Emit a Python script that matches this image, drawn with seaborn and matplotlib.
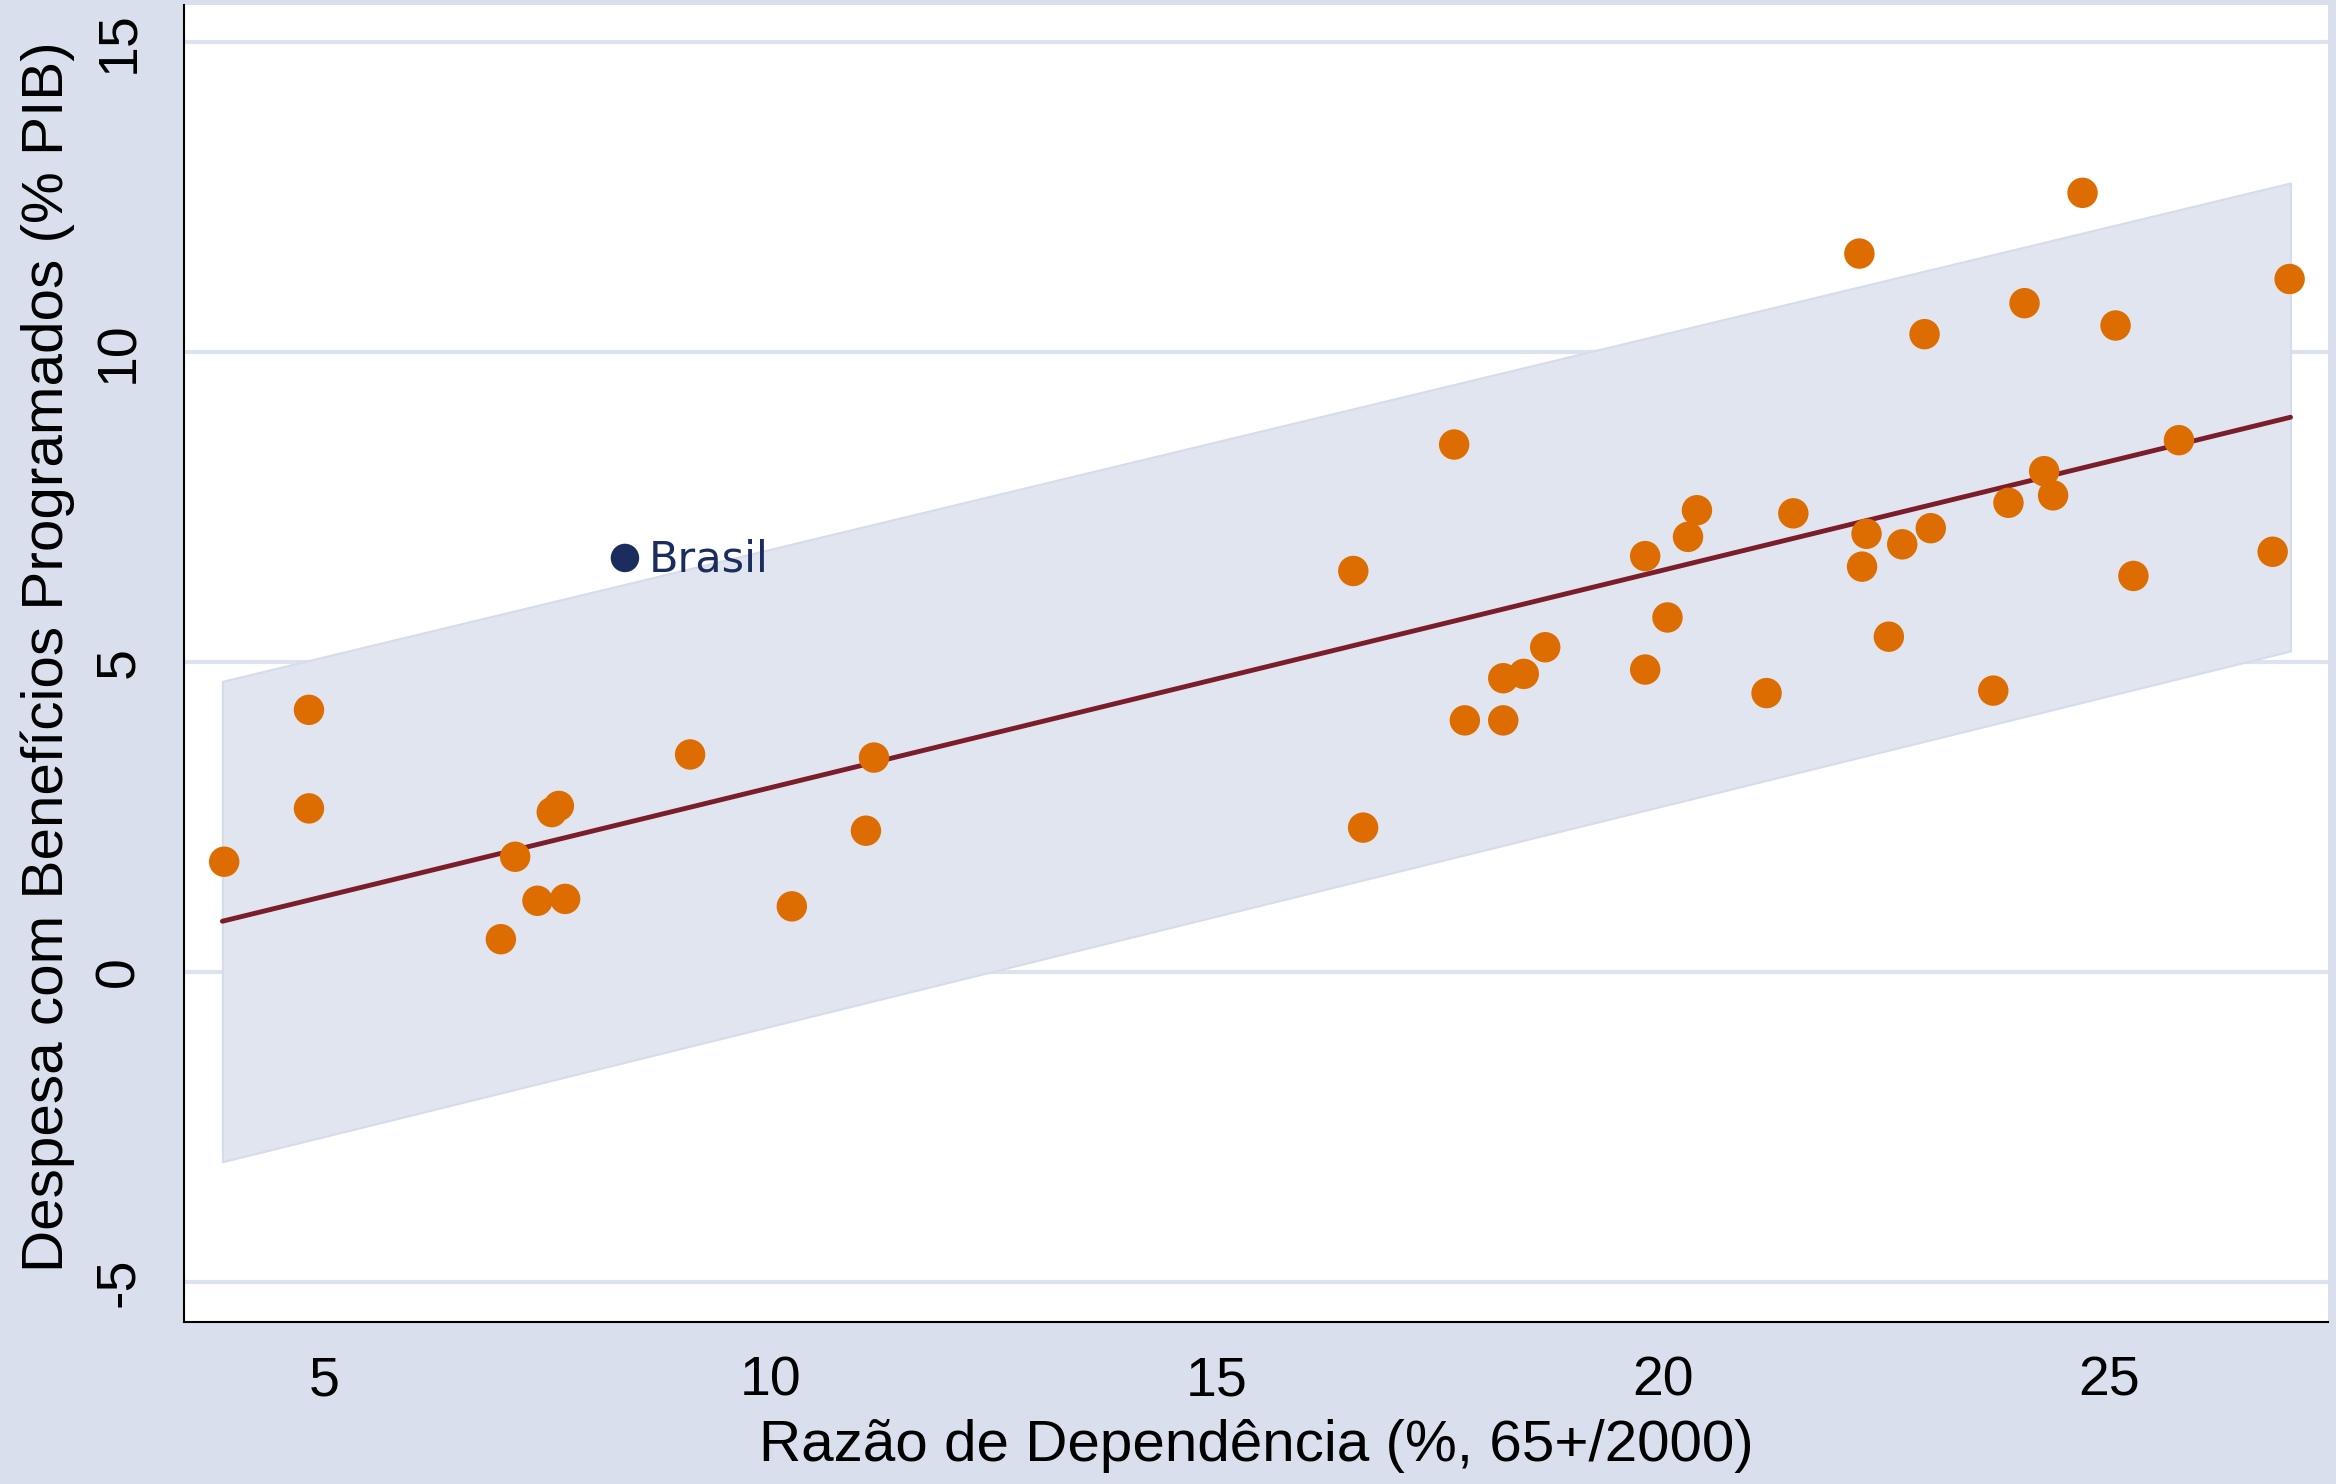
import numpy as np
import pandas as pd
import matplotlib
matplotlib.use("Agg")
import matplotlib.pyplot as plt
import seaborn as sns

# Données (razão de dependência x despesa)
razao = [3.88, 4.83, 4.83, 6.98, 7.14, 7.39, 7.55, 7.63, 7.70, 9.10,
         10.24, 11.07, 11.16, 16.53, 16.64, 17.66, 17.78, 18.21, 18.21, 18.44,
         18.68, 19.80, 19.80, 20.05, 20.28, 20.38, 21.16, 21.46, 22.20, 22.23,
         22.28, 22.53, 22.68, 22.93, 23.00, 23.70, 23.87, 24.05, 24.27, 24.37,
         24.70, 25.07, 25.27, 25.78, 26.83, 27.02]
despesa = [1.78, 4.23, 2.64, 0.53, 1.86, 1.15, 2.58, 2.68, 1.18, 3.51,
           1.06, 2.28, 3.46, 6.47, 2.33, 8.51, 4.06, 4.74, 4.06, 4.81,
           5.24, 6.71, 4.88, 5.72, 7.02, 7.45, 4.50, 7.40, 11.59, 6.54,
           7.07, 5.41, 6.90, 10.29, 7.16, 4.54, 7.57, 10.79, 8.08, 7.69,
           12.57, 10.43, 6.39, 8.58, 6.78, 11.18]

brasil_x = [8.37]
brasil_y = [6.68]

fit_x = [3.86, 27.03]
fit_y = [0.82, 8.95]
band_lo = [-3.06, 5.18]
band_hi = [4.69, 12.73]

df = pd.DataFrame({"razao": razao, "despesa": despesa})

bg = "#d9dfec"
sns.set_style("white")
plt.rcParams["font.family"] = ["Liberation Sans", "DejaVu Sans"]
plt.rcParams["text.color"] = "black"
plt.rcParams["axes.labelcolor"] = "black"

fig = plt.figure(figsize=(23.36, 14.84), dpi=100, facecolor=bg)
ax = fig.add_axes([184 / 2336, 1 - 1322 / 1484, 2144 / 2336, 1317 / 1484])
ax.set_facecolor("white")

ax.set_xlim(3.43, 27.45)
ax.set_ylim(-5.645, 15.6)

for yv in [-5, 0, 5, 10, 15]:
    ax.axhline(yv, color="#dde2ef", lw=3, zorder=0)

ax.fill_between(fit_x, band_lo, band_hi, facecolor="#e1e5f0",
                edgecolor="#d6dcec", lw=1.5, zorder=1)
sns.lineplot(x=fit_x, y=fit_y, ax=ax, color="#7b1d2a", lw=3.5, zorder=2)
sns.scatterplot(data=df, x="razao", y="despesa", ax=ax, color="#dd6d00",
                s=480, edgecolor="none", zorder=3)
sns.scatterplot(x=brasil_x, y=brasil_y, ax=ax, color="#1b2d5e",
                s=420, edgecolor="none", zorder=3)
ax.annotate("Brasil", (brasil_x[0], brasil_y[0]), xytext=(17, -1),
            textcoords="offset points", va="center", ha="left",
            fontsize=31, color="#1b2d5e", family="DejaVu Sans")

ax.set_xticks([5, 10, 15, 20, 25])
ax.set_yticks([-5, 0, 5, 10, 15])
ax.set_yticklabels(["-5", "0", "5", "10", "15"], rotation=90, va="center")
ax.tick_params(axis="both", direction="out", length=16, width=1.5,
               labelsize=40, colors="black")
ax.tick_params(axis="y", pad=12)
ax.tick_params(axis="x", pad=8)

for s in ["top", "right"]:
    ax.spines[s].set_visible(False)
for s in ["left", "bottom"]:
    ax.spines[s].set_color("black")
    ax.spines[s].set_linewidth(1.5)

ax.set_xlabel("Razão de Dependência (%, 65+/2000)", fontsize=42)
ax.set_ylabel("Despesa com Benefícios Programados (% PIB)", fontsize=42)
ax.xaxis.set_label_coords(0.5, -0.074)
ax.yaxis.set_label_coords(-0.051, 0.505)

fig.savefig("out.png", dpi=100, facecolor=bg)
